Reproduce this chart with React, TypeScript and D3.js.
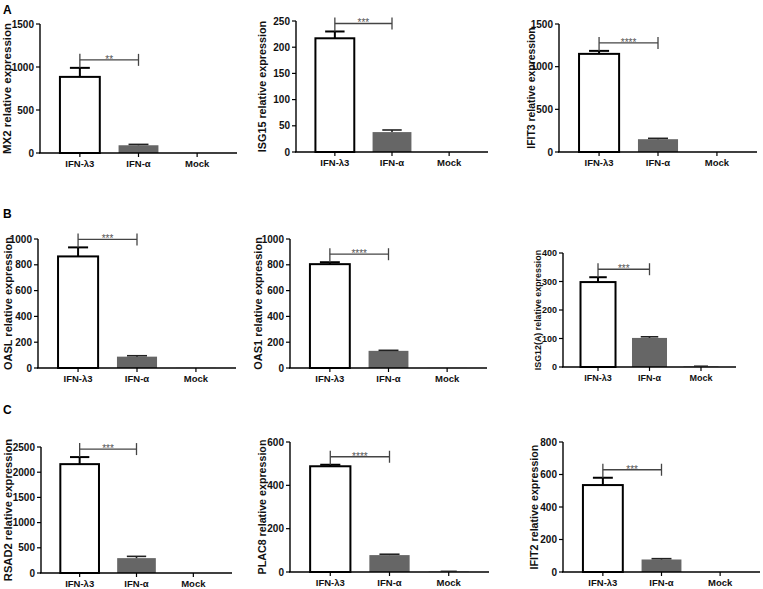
import * as d3 from 'd3';

const categories = ['IFN-λ3', 'IFN-α', 'Mock'];
const genes = ['MX2', 'ISG15', 'IFIT3', 'OASL', 'OAS1', 'ISG12(A)', 'RSAD2', 'PLAC8', 'IFIT2'];
const lambda3Values = [885, 217, 1150, 865, 805, 298, 2160, 488, 535];
const lambda3Errors = [105, 13, 35, 70, 15, 17, 140, 7, 45];
const alphaValues = [90, 38, 150, 88, 133, 102, 295, 78, 77];
const alphaErrors = [10, 4, 10, 7, 4, 4, 35, 4, 5];
const mockValues = [1, 0.3, 1, 1, 1, 2, 1, 2, 1];
const yMaxes = [1500, 250, 1500, 1000, 1000, 400, 2500, 600, 800];
const yTickSteps = [500, 50, 500, 200, 200, 100, 500, 200, 200];
const significance = ['**', '***', '****', '***', '****', '***', '***', '****', '***'];
const rowLetters = ['A', 'B', 'C'];

// pixel layout of each panel (axis x, end of x axis, top tick y, zero y, title x, font sizes)
const layout = [
  { left: 40, right: 237, top: 24, bottom: 153, titleX: 7, font: 10, catFont: 9.5, titleFont: 11.5 },
  { left: 296, right: 488, top: 21, bottom: 152, titleX: 262, font: 10, catFont: 9.5, titleFont: 10.8 },
  { left: 559, right: 757, top: 24, bottom: 152, titleX: 531, font: 10, catFont: 9.5, titleFont: 10.4 },
  { left: 38, right: 236, top: 239, bottom: 368, titleX: 8, font: 10, catFont: 9.5, titleFont: 11 },
  { left: 290, right: 487, top: 239, bottom: 368, titleX: 258, font: 10, catFont: 9.5, titleFont: 11 },
  { left: 563, right: 736, top: 253, bottom: 367, titleX: 538, font: 9, catFont: 9, titleFont: 8.9 },
  { left: 41, right: 232, top: 447, bottom: 573, titleX: 8, font: 10, catFont: 9.5, titleFont: 11.2 },
  { left: 290, right: 489, top: 442, bottom: 572, titleX: 262, font: 10, catFont: 9.5, titleFont: 10.7 },
  { left: 563, right: 760, top: 442, bottom: 572, titleX: 534, font: 10, catFont: 9.5, titleFont: 10.7 },
];
const letterPos = [
  { x: 3, y: 14 },
  { x: 3, y: 218 },
  { x: 3, y: 414 },
];

const FONT = '"Liberation Sans", Arial, sans-serif';

function Panel({ i }: { i: number }) {
  const L = layout[i];
  const x = d3.scaleBand<string>().domain(categories).range([L.left, L.right]).paddingInner(0.32).paddingOuter(0.34);
  const y = d3.scaleLinear().domain([0, yMaxes[i]]).range([L.bottom, L.top]);
  const ticks = d3.range(0, yMaxes[i] + 1, yTickSteps[i]);
  const bw = x.bandwidth();
  const cx = (c: string) => (x(c) ?? 0) + bw / 2;
  const values = [lambda3Values[i], alphaValues[i], mockValues[i]];
  const errors = [lambda3Errors[i], alphaErrors[i], 0];
  const fills = ['#ffffff', '#666666', '#888888'];
  const errTop = y(lambda3Values[i] + lambda3Errors[i]);
  const bracketY = errTop - 8;
  const x1 = cx(categories[0]);
  const x2 = cx(categories[1]);

  return (
    <g fontFamily={FONT} fontWeight="bold">
      {categories.map((c, k) => {
        const v = values[k];
        const h = L.bottom - y(v);
        return (
          <g key={c}>
            <rect
              x={x(c)}
              y={y(v)}
              width={bw}
              height={Math.max(h, 0)}
              fill={fills[k]}
              stroke={k === 0 ? '#000' : 'none'}
              strokeWidth={2}
            />
            {errors[k] > 0 && (
              <g stroke={k === 0 ? '#000' : '#222'} strokeWidth={k === 0 ? 2 : 1.6}>
                <line x1={cx(c)} x2={cx(c)} y1={y(v)} y2={y(v + errors[k])} />
                <line x1={cx(c) - bw / 4} x2={cx(c) + bw / 4} y1={y(v + errors[k])} y2={y(v + errors[k])} />
              </g>
            )}
            {k === 2 && v >= 2 && (
              <line x1={cx(c) - bw / 5} x2={cx(c) + bw / 5} y1={y(v) - 0.5} y2={y(v) - 0.5} stroke="#444" strokeWidth={1.2} />
            )}
          </g>
        );
      })}
      {/* y axis */}
      <line x1={L.left} x2={L.left} y1={L.top} y2={L.bottom} stroke="#000" strokeWidth={1.4} />
      {ticks.map((t) => (
        <g key={t}>
          <line x1={L.left - 4} x2={L.left} y1={y(t)} y2={y(t)} stroke="#000" strokeWidth={1.2} />
          <text x={L.left - 6} y={y(t)} dy="0.35em" textAnchor="end" fontSize={L.font} fill="#111">
            {t}
          </text>
        </g>
      ))}
      {/* x axis */}
      <line x1={L.left - 1} x2={L.right} y1={L.bottom} y2={L.bottom} stroke="#000" strokeWidth={1.4} />
      {categories.map((c) => (
        <g key={c}>
          <line x1={cx(c)} x2={cx(c)} y1={L.bottom} y2={L.bottom + 4} stroke="#000" strokeWidth={1.2} />
          <text x={cx(c)} y={L.bottom + 14} textAnchor="middle" fontSize={L.catFont} fill="#111">
            {c}
          </text>
        </g>
      ))}
      <text
        transform={`translate(${L.titleX},${(L.top + L.bottom) / 2}) rotate(-90)`}
        dy="0.35em"
        textAnchor="middle"
        fontSize={L.titleFont}
        fill="#111"
      >
        {genes[i]} relative expression
      </text>
      {/* significance bracket */}
      <g stroke="#444" strokeWidth={1.3}>
        <line x1={x1} x2={x1} y1={bracketY - 6} y2={errTop} />
        <line x1={x1} x2={x2} y1={bracketY} y2={bracketY} />
        <line x1={x2} x2={x2} y1={bracketY - 6} y2={bracketY + 6} />
      </g>
      <text x={(x1 + x2) / 2} y={bracketY + 3} textAnchor="middle" fontSize={10} fontWeight="normal" fill="#555">
        {significance[i]}
      </text>
    </g>
  );
}

export default function App() {
  return (
    <svg width={763} height={589} style={{ position: 'absolute', left: 0, top: 0, background: '#fff' }}>
      <rect width={763} height={589} fill="#fff" />
      {rowLetters.map((l, r) => (
        <text key={l} x={letterPos[r].x} y={letterPos[r].y} fontFamily={FONT} fontWeight="bold" fontSize={12} fill="#000">
          {l}
        </text>
      ))}
      {genes.map((g, i) => (
        <Panel key={g} i={i} />
      ))}
    </svg>
  );
}
